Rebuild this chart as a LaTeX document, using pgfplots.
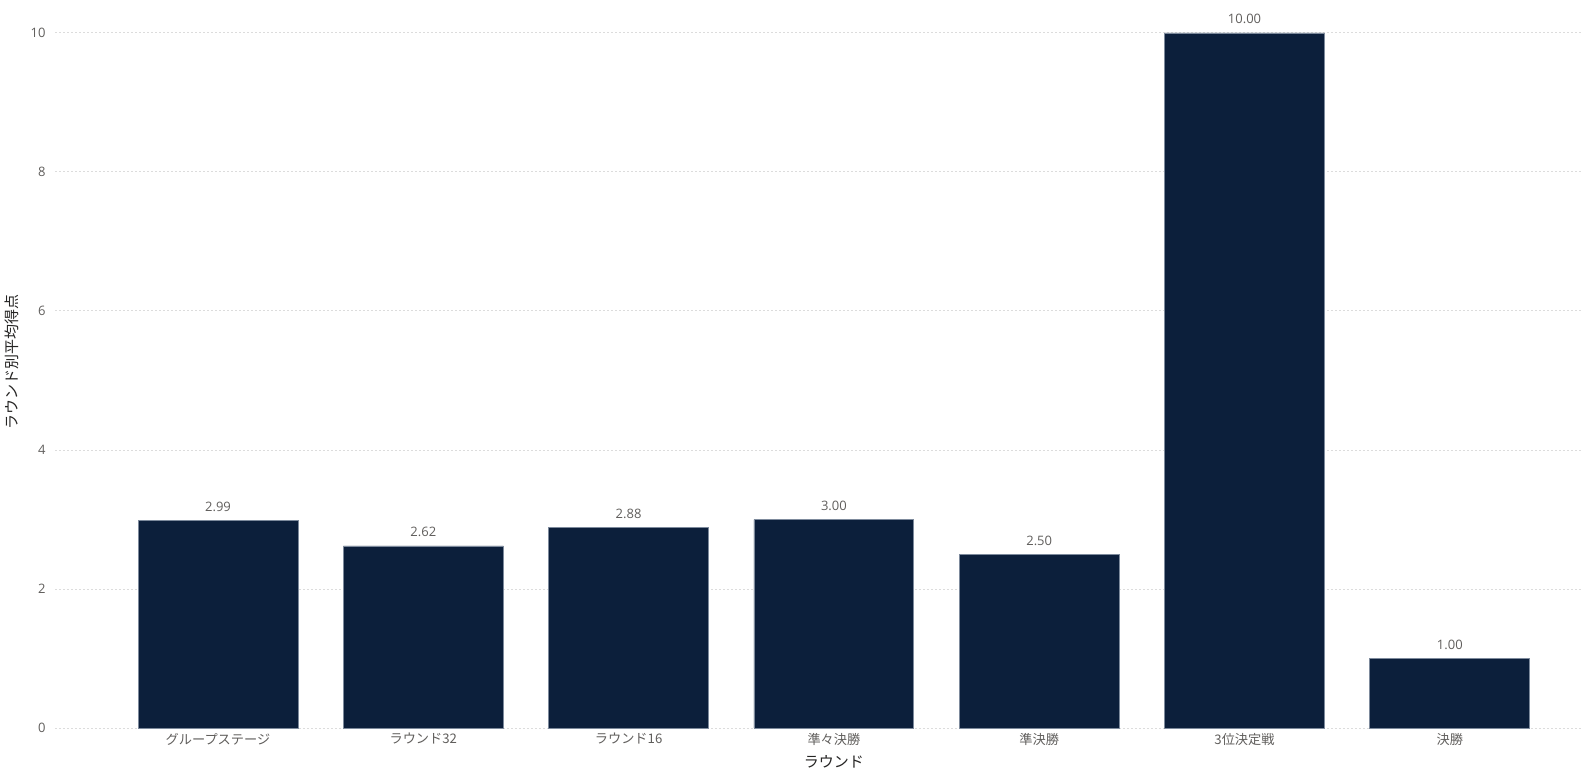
\documentclass[border=0pt]{standalone}
\usepackage{pgfplots}
\pgfplotsset{compat=1.18}
\usepackage{fontspec}
\setmainfont{Open Sans}
\newfontfamily\jp{Noto Sans CJK JP}
\definecolor{barfill}{HTML}{0C1F3B}
\definecolor{bardraw}{HTML}{7D8A9C}
\definecolor{ticktxt}{HTML}{605E5C}
\definecolor{titletxt}{HTML}{252423}
\definecolor{gridc}{HTML}{DCDCDC}
\begin{document}
\begin{tikzpicture}
\path[use as bounding box] (0,0) rectangle (791pt,388.5pt);
\begin{axis}[
  at={(27.5pt,24.5pt)}, anchor=south west,
  scale only axis, width=763.5pt, height=347.5pt,
  xmin=-0.794, xmax=6.644, ymin=0, ymax=10,
  clip=false,
  axis line style={draw=none},
  major tick length=0pt,
  xtick={0,1,2,3,4,5,6},
  xticklabels={グループステージ,ラウンド32,ラウンド16,準々決勝,準決勝,3位決定戦,決勝},
  ytick={0,2,4,6,8,10},
  ymajorgrids,
  grid style={gridc, line width=0.5pt, dash pattern=on 1pt off 1pt},
  /pgf/number format/assume math mode=true,
  xticklabel style={font=\jp\fontsize{6.6pt}{8pt}\selectfont, text=ticktxt, anchor=north, inner sep=0pt, yshift=-2.5pt},
  yticklabel style={font=\fontsize{6.5pt}{8pt}\selectfont, text=ticktxt, anchor=east, inner sep=0pt, xshift=-4.5pt},
  xlabel={ラウンド},
  ylabel={ラウンド別平均得点},
  every axis x label/.style={at={(rel axis cs:0.510,0)}, yshift=-17pt, anchor=center, font=\jp\fontsize{7.5pt}{9pt}\selectfont, text=titletxt},
  every axis y label/.style={at={(rel axis cs:0,0.527)}, xshift=-21.5pt, rotate=90, anchor=center, font=\jp\fontsize{7.5pt}{9pt}\selectfont, text=titletxt},
  ybar, bar width=0.779,
  nodes near coords,
  nodes near coords style={font=\fontsize{6.5pt}{8pt}\selectfont, text=ticktxt, anchor=south, inner sep=0pt, yshift=4.25pt,
    /pgf/number format/.cd, fixed, fixed zerofill, precision=2, assume math mode=true},
]
\addplot[fill=barfill, draw=bardraw, line width=0.4pt] coordinates {
  (0,2.99) (1,2.62) (2,2.88) (3,3.00) (4,2.50) (5,10.00) (6,1.00)
};
\end{axis}
\end{tikzpicture}
\end{document}
